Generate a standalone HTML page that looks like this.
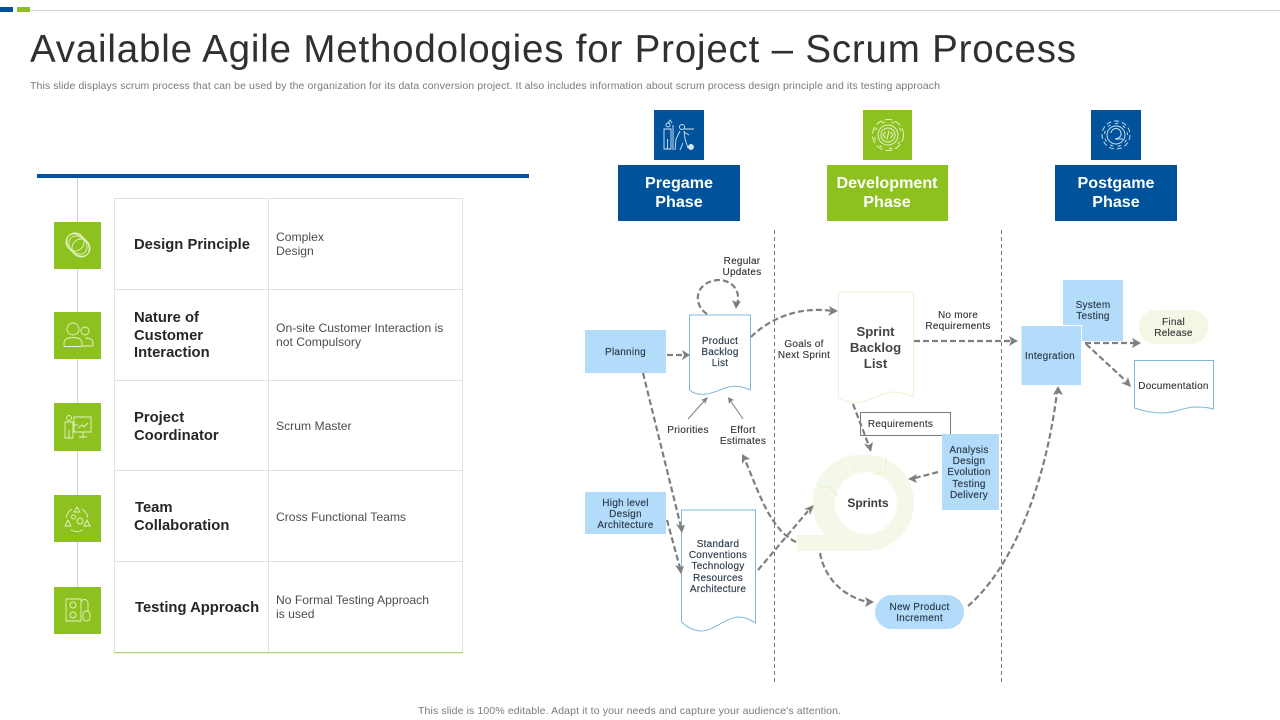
<!DOCTYPE html>
<html>
<head>
<meta charset="utf-8">
<style>
html,body{margin:0;padding:0;background:#fff;width:1280px;height:720px;overflow:hidden}
svg{display:block;position:absolute;left:0;top:0}
text{font-family:"Liberation Sans",sans-serif}
.h{font-size:14.8px;font-weight:bold;fill:#262626}
.v{font-size:12.15px;fill:#4d4d4d}
.p{font-size:16.1px;font-weight:bold;fill:#fff;text-anchor:middle}
.l{font-size:10px;letter-spacing:.25px;fill:#333;stroke:#333;stroke-width:.12;text-anchor:middle}
.n{font-size:10px;letter-spacing:.25px;fill:#2a3a4a;stroke:#2a3a4a;stroke-width:.15;text-anchor:middle}
.d{fill:none;stroke:#7f7f7f;stroke-width:2.2;stroke-dasharray:6 3}
.a{fill:#7f7f7f}
.i{fill:none;stroke:#e6f2c8;stroke-width:.9}
.j{fill:none;stroke:#d4e6f5;stroke-width:.9}
</style>
</head>
<body>
<svg width="1280" height="720" viewBox="0 0 1280 720" xmlns="http://www.w3.org/2000/svg">
<rect x="0" y="7" width="13" height="5" fill="#00539b"/>
<rect x="17" y="7" width="13" height="5" fill="#8cc11f"/>
<rect x="30" y="10" width="1250" height="1" fill="#d4d4d4"/>
<text x="30" y="62" font-size="38.500" fill="#303030" textLength="1046" lengthAdjust="spacing">Available Agile Methodologies for Project – Scrum Process</text>
<text x="30" y="89" font-size="10.500" fill="#7a7a7a" textLength="910" lengthAdjust="spacing">This slide displays scrum process that can be used by the organization for its data conversion project. It also includes information about scrum process design principle and its testing approach</text>
<text x="418" y="714" font-size="10.500" fill="#7a7a7a" textLength="423" lengthAdjust="spacing">This slide is 100% editable.  Adapt it to your needs and capture your audience's attention.</text>

<!-- left -->
<rect x="77" y="178" width="1" height="412" fill="#cfcfcf"/>
<rect x="37" y="174" width="492" height="4" fill="#00539b"/>
<g fill="none" stroke="#e2e2e2" stroke-width="1">
<rect x="114.500" y="198.500" width="348" height="454"/>
<path d="M115 289.500H463M115 380.500H463M115 470.500H463M115 561.500H463M268.500 198V652"/>
</g>
<rect x="114" y="652" width="349" height="1.300" fill="#b5d57a"/>
<g fill="#8cc11f">
<rect x="54" y="222" width="47" height="47"/>
<rect x="54" y="312" width="47" height="47"/>
<rect x="54" y="403" width="47" height="48"/>
<rect x="54" y="495" width="47" height="47"/>
<rect x="54" y="587" width="47" height="47"/>
</g>
<!-- icons -->
<g class="i">
<ellipse cx="78" cy="245" rx="13" ry="9" transform="rotate(45 78 245)"/><ellipse cx="78" cy="245" rx="10" ry="8" transform="rotate(45 78 245)"/><circle cx="75" cy="242" r="9"/><circle cx="81" cy="248" r="9"/>
<circle cx="73" cy="329" r="6"/><path d="M64 346.500v-3q0-6 9-6t9 6v3z"/><circle cx="85" cy="331" r="4"/><path d="M83 346H93v-3q0-5-8-5"/>
<circle cx="69" cy="418" r="2.500"/><path d="M65 422h8v16h-8zM69 430v8M74 417h17v15H74zM83 432v6M79 437h8M78 428l4-3 2 2 4-4M73 425h5"/>
<path d="M77 507l3 5h-6zM68 520l3 6h-6zM87 520l3 6h-6zM66 518a13 13 0 0 1 6-9M88 518a13 13 0 0 0-6-9M71 530a13 13 0 0 0 12 0"/><circle cx="73.500" cy="517" r="2"/><circle cx="80" cy="521" r="3"/>
<path d="M66 599h15v22H66zM81 603a3.500 3.500 0 0 1 7 0V611"/><circle cx="73" cy="605" r="3"/><circle cx="73" cy="615" r="3"/><rect x="83" y="611" width="7" height="10" rx="3.500"/>
</g>
<text class="h" x="134" y="249">Design Principle</text>
<text class="h"><tspan x="134" y="322">Nature of</tspan><tspan x="134" y="340">Customer</tspan><tspan x="134" y="357">Interaction</tspan></text>
<text class="h"><tspan x="134" y="422">Project</tspan><tspan x="134" y="440">Coordinator</tspan></text>
<text class="h"><tspan x="135" y="512">Team</tspan><tspan x="134" y="530">Collaboration</tspan></text>
<text class="h" x="135" y="612">Testing Approach</text>
<text class="v"><tspan x="276" y="241">Complex</tspan><tspan x="276" y="255">Design</tspan></text>
<text class="v"><tspan x="276" y="332">On-site Customer Interaction is</tspan><tspan x="276" y="346">not Compulsory</tspan></text>
<text class="v" x="276" y="430">Scrum Master</text>
<text class="v" x="276" y="521">Cross Functional Teams</text>
<text class="v"><tspan x="276" y="604">No Formal Testing Approach</tspan><tspan x="276" y="618">is used</tspan></text>

<!-- phases -->
<rect x="654" y="110" width="50" height="50" fill="#00539b"/>
<rect x="618" y="165" width="122" height="56" fill="#00539b"/>
<rect x="863" y="110" width="49" height="50" fill="#8cc11f"/>
<rect x="827" y="165" width="121" height="56" fill="#8cc11f"/>
<rect x="1091" y="110" width="50" height="50" fill="#00539b"/>
<rect x="1055" y="165" width="122" height="56" fill="#00539b"/>
<text class="p"><tspan x="679" y="188">Pregame</tspan><tspan x="679" y="207">Phase</tspan></text>
<text class="p"><tspan x="887" y="188">Development</tspan><tspan x="887" y="207">Phase</tspan></text>
<text class="p"><tspan x="1116" y="188">Postgame</tspan><tspan x="1116" y="207">Phase</tspan></text>
<g class="j">
<circle cx="668" cy="125" r="2"/><path d="M664 129h7v20h-7zM667.500 139v10M668 123l2-3 2 3M673 125v25"/><circle cx="682" cy="127" r="2.500"/><path d="M680 131l-4 8-1 11M684 131l1 8 3 9M684 129h10M684 132l5 3M680 150l3-7"/><circle cx="691" cy="147" r="2.500" fill="#d4e6f5"/>
</g>
<g fill="none" stroke="#e6f2c8" stroke-width="1">
<circle cx="888" cy="135" r="15.500" stroke-dasharray="7 3"/><circle cx="888" cy="135" r="13.500" stroke-dasharray="3 7" stroke-dashoffset="-7"/><circle cx="888" cy="135" r="10"/><circle cx="888" cy="135" r="7"/><path d="M885.500 132l-2.500 3 2.500 3M890.500 132l2.500 3-2.500 3M889 130.500l-2 9"/>
</g>
<g class="j">
<circle cx="1116" cy="135" r="14" stroke-dasharray="5 3"/><circle cx="1116" cy="135" r="11.500" stroke-dasharray="3 5" stroke-dashoffset="-5"/><circle cx="1116" cy="135" r="9"/><path d="M1111 133a5 5 0 0 1 10 1q0 4-6 5h8"/>
</g>
<path d="M774.500 230V682M1001.500 230V682" fill="none" stroke="#7a7a7a" stroke-width="1" stroke-dasharray="4 3"/>

<!-- ring -->
<path d="M866 455a48 48 0 0 1 0 96H797V535h28a48 48 0 0 1 41-80zM866 472a31 31 0 1 0 0 62 31 31 0 0 0 0-62z" fill="#f3f8e8" fill-rule="evenodd"/>
<path d="M819 488l10-2 8 10M873 474l12-2 1-14" fill="none" stroke="#e8f1d4" stroke-width="1.500"/>
<path d="M846 458l5 15M888 462l-7 12M897 500l17-3M884 535l8 15M835 520l-14 8" fill="none" stroke="#fafcf4" stroke-width="1"/>
<text x="868" y="507" text-anchor="middle" font-size="12" font-weight="bold" fill="#3c3c3c">Sprints</text>

<!-- nodes -->
<rect x="585" y="330" width="81" height="43" fill="#b3dcfb"/>
<rect x="585" y="492" width="81" height="42" fill="#b3dcfb"/>
<rect x="1063" y="280" width="60" height="61" fill="#b3dcfb"/>
<rect x="1021" y="325.500" width="60.500" height="60" fill="#b3dcfb" stroke="#fff" stroke-width="1"/>
<rect x="860.500" y="412.500" width="90" height="23" fill="#fff" stroke="#7a7a7a" stroke-width="1"/>
<rect x="942" y="434" width="57" height="76" fill="#b3dcfb"/>
<rect x="875" y="595" width="89" height="34" rx="17" fill="#b3dcfb"/>
<rect x="1139" y="310" width="69" height="34" rx="16" fill="#f3f7e6"/>
<path d="M689.500 315H750.500V390C741 386 735 385 725 388C715 392 700 399 689.500 390Z" fill="#fff" stroke="#7db9d8"/>
<path d="M681.500 510H755.500V623C749 619 745 617 738 617C725 618 712 632 700 631C692 630 687 627 681.500 622Z" fill="#fff" stroke="#7db9d8"/>
<path d="M838.500 292H913.500V397C906 394 900 392 893 392C880 393 865 404 853 403C847 403 842 400 838.500 398Z" fill="#fff" stroke="#eef0d6"/>
<path d="M1134.500 360.500H1213.500V409C1207 407 1200 407 1193 407C1183 408 1173 413 1163 413C1152 413 1143 411 1134.500 408Z" fill="#fff" stroke="#7db9d8"/>

<!-- connectors -->
<g class="d">
<path d="M667 355H684"/>
<path d="M707 314C692 304 695 282 718 280C734 280 741 293 737 304"/>
<path d="M751 337C770 318 800 306 832 311"/>
<path d="M643 373L681 527"/>
<path d="M667 520L680 568"/>
<path d="M758 570L808 511"/>
<path d="M796 542C770 530 758 490 745 460"/>
<path d="M820 553C825 580 845 597 868 602"/>
<path d="M968 606C1010 570 1045 490 1057 392"/>
<path d="M914 341H1012"/>
<path d="M1085 343H1134"/>
<path d="M1086 344L1126 381"/>
<path d="M853 404L869 446"/>
<path d="M938 472L915 478"/>
</g>
<g class="a">
<path d="M690 355l-8-5 2 5-2 5z"/>
<path d="M736 309l-4-9 4 2 5-1z"/>
<path d="M838 311l-9-5 2 5-3 5z"/>
<path d="M682 533l-6-9 5 2 4-1z"/>
<path d="M681 574l-6-9 5 2 4-1z"/>
<path d="M814 505l-10 4 5 1 1 5z"/>
<path d="M742 454l0 10 3-4 5-1z"/>
<path d="M874 602l-9-5 2 5-2 5z"/>
<path d="M1058 386l-5 9 5-2 5 2z"/>
<path d="M1018 341l-9-5 2 5-2 5z"/>
<path d="M1141 343l-9-5 2 5-2 5z"/>
<path d="M1131 387l-3-10-2 5-5 1z"/>
<path d="M871 452l2-10-4 3-5-1z"/>
<path d="M908 479l9-5-2 5 2 4z"/>
</g>
<g fill="none" stroke="#7f7f7f" stroke-width="1">
<path d="M688 419L706 399M743 419L730 400"/>
</g>
<path class="a" d="M708 397l-7 3 3 1 1 3zM728 397l1 7 2-3 3-1z"/>

<!-- labels -->
<text class="l"><tspan x="742" y="264">Regular</tspan><tspan x="742" y="275">Updates</tspan></text>
<text class="n"><tspan x="720" y="344">Product</tspan><tspan x="720" y="355">Backlog</tspan><tspan x="720" y="366">List</tspan></text>
<text class="n" x="625.500" y="355">Planning</text>
<text class="l" x="688" y="433">Priorities</text>
<text class="l"><tspan x="743" y="433">Effort</tspan><tspan x="743" y="444">Estimates</tspan></text>
<text class="l"><tspan x="804" y="347">Goals of</tspan><tspan x="804" y="358">Next Sprint</tspan></text>
<text x="875.500" y="336" text-anchor="middle" font-size="13.200" font-weight="bold" fill="#444"><tspan x="875.500" y="336">Sprint</tspan><tspan x="875.500" y="352">Backlog</tspan><tspan x="875.500" y="368">List</tspan></text>
<text class="l"><tspan x="958" y="318">No more</tspan><tspan x="958" y="329">Requirements</tspan></text>
<text class="l" x="900.500" y="427">Requirements</text>
<text class="n"><tspan x="969" y="453">Analysis</tspan><tspan x="969" y="464">Design</tspan><tspan x="969" y="475">Evolution</tspan><tspan x="969" y="487">Testing</tspan><tspan x="969" y="498">Delivery</tspan></text>
<text class="n"><tspan x="625.500" y="506">High level</tspan><tspan x="625.500" y="517">Design</tspan><tspan x="625.500" y="528">Architecture</tspan></text>
<text class="n"><tspan x="718" y="547">Standard</tspan><tspan x="718" y="558">Conventions</tspan><tspan x="718" y="569">Technology</tspan><tspan x="718" y="581">Resources</tspan><tspan x="718" y="592">Architecture</tspan></text>
<text class="n"><tspan x="919.500" y="610">New Product</tspan><tspan x="919.500" y="621">Increment</tspan></text>
<text class="n" x="1050" y="359">Integration</text>
<text class="n"><tspan x="1093" y="308">System</tspan><tspan x="1093" y="319">Testing</tspan></text>
<text class="l"><tspan x="1173.500" y="325">Final</tspan><tspan x="1173.500" y="336">Release</tspan></text>
<text class="l" x="1173.500" y="389">Documentation</text>
</svg>
</body>
</html>
